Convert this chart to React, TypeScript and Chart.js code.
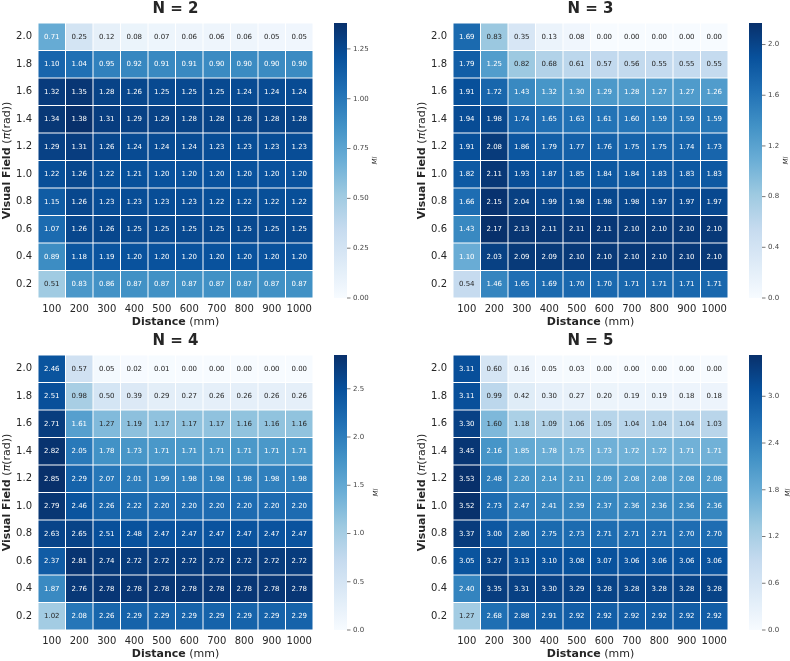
import React, { useEffect, useRef } from 'react';
import { Chart, registerables } from 'chart.js';

Chart.register(...registerables);

const FONT = '"DejaVu Sans", "Liberation Sans", sans-serif';
const TEXT = '#262626';

// Distance categories (x) and visual field labels (rows listed top to bottom)
const distances = ['100', '200', '300', '400', '500', '600', '700', '800', '900', '1000'];
const fieldLabels = ['2.0', '1.8', '1.6', '1.4', '1.2', '1.0', '0.8', '0.6', '0.4', '0.2'];

const miN2 = [
  [0.71, 0.25, 0.12, 0.08, 0.07, 0.06, 0.06, 0.06, 0.05, 0.05],
  [1.10, 1.04, 0.95, 0.92, 0.91, 0.91, 0.90, 0.90, 0.90, 0.90],
  [1.32, 1.35, 1.28, 1.26, 1.25, 1.25, 1.25, 1.24, 1.24, 1.24],
  [1.34, 1.38, 1.31, 1.29, 1.29, 1.28, 1.28, 1.28, 1.28, 1.28],
  [1.29, 1.31, 1.26, 1.24, 1.24, 1.24, 1.23, 1.23, 1.23, 1.23],
  [1.22, 1.26, 1.22, 1.21, 1.20, 1.20, 1.20, 1.20, 1.20, 1.20],
  [1.15, 1.26, 1.23, 1.23, 1.23, 1.23, 1.22, 1.22, 1.22, 1.22],
  [1.07, 1.26, 1.26, 1.25, 1.25, 1.25, 1.25, 1.25, 1.25, 1.25],
  [0.89, 1.18, 1.19, 1.20, 1.20, 1.20, 1.20, 1.20, 1.20, 1.20],
  [0.51, 0.83, 0.86, 0.87, 0.87, 0.87, 0.87, 0.87, 0.87, 0.87],
];

const miN3 = [
  [1.69, 0.83, 0.35, 0.13, 0.08, 0.00, 0.00, 0.00, 0.00, 0.00],
  [1.79, 1.25, 0.82, 0.68, 0.61, 0.57, 0.56, 0.55, 0.55, 0.55],
  [1.91, 1.72, 1.43, 1.32, 1.30, 1.29, 1.28, 1.27, 1.27, 1.26],
  [1.94, 1.98, 1.74, 1.65, 1.63, 1.61, 1.60, 1.59, 1.59, 1.59],
  [1.91, 2.08, 1.86, 1.79, 1.77, 1.76, 1.75, 1.75, 1.74, 1.73],
  [1.82, 2.11, 1.93, 1.87, 1.85, 1.84, 1.84, 1.83, 1.83, 1.83],
  [1.66, 2.15, 2.04, 1.99, 1.98, 1.98, 1.98, 1.97, 1.97, 1.97],
  [1.43, 2.17, 2.13, 2.11, 2.11, 2.11, 2.10, 2.10, 2.10, 2.10],
  [1.10, 2.03, 2.09, 2.09, 2.10, 2.10, 2.10, 2.10, 2.10, 2.10],
  [0.54, 1.46, 1.65, 1.69, 1.70, 1.70, 1.71, 1.71, 1.71, 1.71],
];

const miN4 = [
  [2.46, 0.57, 0.05, 0.02, 0.01, 0.00, 0.00, 0.00, 0.00, 0.00],
  [2.51, 0.98, 0.50, 0.39, 0.29, 0.27, 0.26, 0.26, 0.26, 0.26],
  [2.71, 1.61, 1.27, 1.19, 1.17, 1.17, 1.17, 1.16, 1.16, 1.16],
  [2.82, 2.05, 1.78, 1.73, 1.71, 1.71, 1.71, 1.71, 1.71, 1.71],
  [2.85, 2.29, 2.07, 2.01, 1.99, 1.98, 1.98, 1.98, 1.98, 1.98],
  [2.79, 2.46, 2.26, 2.22, 2.20, 2.20, 2.20, 2.20, 2.20, 2.20],
  [2.63, 2.65, 2.51, 2.48, 2.47, 2.47, 2.47, 2.47, 2.47, 2.47],
  [2.37, 2.81, 2.74, 2.72, 2.72, 2.72, 2.72, 2.72, 2.72, 2.72],
  [1.87, 2.76, 2.78, 2.78, 2.78, 2.78, 2.78, 2.78, 2.78, 2.78],
  [1.02, 2.08, 2.26, 2.29, 2.29, 2.29, 2.29, 2.29, 2.29, 2.29],
];

const miN5 = [
  [3.11, 0.60, 0.16, 0.05, 0.03, 0.00, 0.00, 0.00, 0.00, 0.00],
  [3.11, 0.99, 0.42, 0.30, 0.27, 0.20, 0.19, 0.19, 0.18, 0.18],
  [3.30, 1.60, 1.18, 1.09, 1.06, 1.05, 1.04, 1.04, 1.04, 1.03],
  [3.45, 2.16, 1.85, 1.78, 1.75, 1.73, 1.72, 1.72, 1.71, 1.71],
  [3.53, 2.48, 2.20, 2.14, 2.11, 2.09, 2.08, 2.08, 2.08, 2.08],
  [3.52, 2.73, 2.47, 2.41, 2.39, 2.37, 2.36, 2.36, 2.36, 2.36],
  [3.37, 3.00, 2.80, 2.75, 2.73, 2.71, 2.71, 2.71, 2.70, 2.70],
  [3.05, 3.27, 3.13, 3.10, 3.08, 3.07, 3.06, 3.06, 3.06, 3.06],
  [2.40, 3.35, 3.31, 3.30, 3.29, 3.28, 3.28, 3.28, 3.28, 3.28],
  [1.27, 2.68, 2.88, 2.91, 2.92, 2.92, 2.92, 2.92, 2.92, 2.92],
];

// Colorbar tick values per panel
const cbTicksN2 = [0, 0.25, 0.5, 0.75, 1.0, 1.25];
const cbTicksN3 = [0, 0.4, 0.8, 1.2, 1.6, 2.0];
const cbTicksN4 = [0, 0.5, 1.0, 1.5, 2.0, 2.5];
const cbTicksN5 = [0, 0.6, 1.2, 1.8, 2.4, 3.0];

// matplotlib "Blues" colormap control points
const BLUES: number[][] = [
  [247, 251, 255],
  [222, 235, 247],
  [198, 219, 239],
  [158, 202, 225],
  [107, 174, 214],
  [66, 146, 198],
  [33, 113, 181],
  [8, 81, 156],
  [8, 48, 107],
];

function bluesRGB(t: number): number[] {
  const tt = Math.max(0, Math.min(1, t)) * (BLUES.length - 1);
  const i = Math.min(Math.floor(tt), BLUES.length - 2);
  const f = tt - i;
  const a = BLUES[i];
  const b = BLUES[i + 1];
  return [0, 1, 2].map((k) => a[k] + (b[k] - a[k]) * f);
}

function rgbStr(c: number[]) {
  return `rgb(${Math.round(c[0])},${Math.round(c[1])},${Math.round(c[2])})`;
}

function luminance(c: number[]) {
  const lin = c.map((v) => {
    const s = v / 255;
    return s <= 0.03928 ? s / 12.92 : Math.pow((s + 0.055) / 1.055, 2.4);
  });
  return 0.2126 * lin[0] + 0.7152 * lin[1] + 0.0722 * lin[2];
}

type PanelProps = {
  title: string;
  values: number[][];
  cbTicks: number[];
  decimals: number;
  left: number;
  top: number;
  miOffset: number;
};

const W = 395;
const H = 330;
const AREA_L = 38;
const AREA_T = 23;
const AREA_SIZE = 275;

function Panel({ title, values, cbTicks, decimals, left, top, miOffset }: PanelProps) {
  const ref = useRef<HTMLCanvasElement | null>(null);

  useEffect(() => {
    if (!ref.current) return;
    const vmax = Math.max(...values.map((r) => Math.max(...r)));
    const nRows = fieldLabels.length;

    // datasets stacked from bottom row to top row
    const datasets = [] as any[];
    for (let k = nRows - 1; k >= 0; k--) {
      const row = values[k];
      datasets.push({
        label: fieldLabels[k],
        data: row.map(() => 1),
        mi: row,
        backgroundColor: row.map((v) => rgbStr(bluesRGB(v / vmax))),
        borderColor: '#ffffff',
        borderWidth: 0.5,
        borderSkipped: false,
        barPercentage: 1,
        categoryPercentage: 1,
        inflateAmount: 0,
      });
    }

    const extras = {
      id: 'heatExtras',
      afterDatasetsDraw(chart: any) {
        const ctx = chart.ctx;
        ctx.save();
        ctx.font = `7px ${FONT}`;
        ctx.textAlign = 'center';
        ctx.textBaseline = 'middle';
        chart.data.datasets.forEach((ds: any, di: number) => {
          const meta = chart.getDatasetMeta(di);
          meta.data.forEach((el: any, i: number) => {
            const v = ds.mi[i];
            const c = bluesRGB(v / vmax);
            ctx.fillStyle = luminance(c) > 0.408 ? TEXT : '#ffffff';
            ctx.fillText(v.toFixed(2), el.x, (el.y + el.base) / 2);
          });
        });
        ctx.restore();
      },
      afterDraw(chart: any) {
        const ctx = chart.ctx;
        const area = chart.chartArea;
        const cb = chart.scales.cb;
        const cx = (area.left + area.right) / 2;
        const cy = (area.top + area.bottom) / 2;
        ctx.save();

        // colorbar
        const x0 = area.right + 21;
        const yTop = cb.getPixelForValue(vmax);
        const yBot = cb.getPixelForValue(0);
        const grad = ctx.createLinearGradient(0, yBot, 0, yTop);
        BLUES.forEach((c, i) => grad.addColorStop(i / (BLUES.length - 1), rgbStr(c)));
        ctx.fillStyle = grad;
        ctx.fillRect(x0, yTop, 13, yBot - yTop);
        ctx.strokeStyle = '#555555';
        ctx.lineWidth = 0.8;
        cb.ticks.forEach((t: any) => {
          const y = cb.getPixelForValue(t.value);
          ctx.beginPath();
          ctx.moveTo(x0 + 13, y);
          ctx.lineTo(x0 + 16.5, y);
          ctx.stroke();
        });

        // MI label
        ctx.save();
        ctx.translate(area.right + miOffset, cy);
        ctx.rotate(-Math.PI / 2);
        ctx.font = `italic 7px ${FONT}`;
        ctx.fillStyle = TEXT;
        ctx.textAlign = 'center';
        ctx.textBaseline = 'middle';
        ctx.fillText('MI', 0, 0);
        ctx.restore();

        // panel title
        ctx.font = `bold 15px ${FONT}`;
        ctx.fillStyle = TEXT;
        ctx.textAlign = 'center';
        ctx.textBaseline = 'middle';
        ctx.fillText(title, cx, area.top - 14);

        // mixed-font text helper
        const drawParts = (parts: [string, string][], x: number, y: number) => {
          ctx.textAlign = 'left';
          ctx.textBaseline = 'middle';
          let total = 0;
          parts.forEach(([f, s]) => {
            ctx.font = f;
            total += ctx.measureText(s).width;
          });
          let px = x - total / 2;
          parts.forEach(([f, s]) => {
            ctx.font = f;
            ctx.fillText(s, px, y);
            px += ctx.measureText(s).width;
          });
        };

        // x axis title
        drawParts(
          [
            [`bold 11px ${FONT}`, 'Distance'],
            [`11px ${FONT}`, ' (mm)'],
          ],
          cx,
          area.bottom + 24
        );

        // y axis title
        ctx.save();
        ctx.translate(area.left - 30.5, cy);
        ctx.rotate(-Math.PI / 2);
        drawParts(
          [
            [`bold 11px ${FONT}`, 'Visual Field '],
            [`11px ${FONT}`, '('],
            [`italic 11px ${FONT}`, 'π'],
            [`11px ${FONT}`, '(rad))'],
          ],
          0,
          0
        );
        ctx.restore();

        ctx.restore();
      },
    };

    const chart = new Chart(ref.current, {
      type: 'bar',
      data: { labels: distances, datasets },
      plugins: [extras],
      options: {
        responsive: false,
        animation: false,
        events: [],
        layout: {
          padding: { left: 0, right: W - (AREA_L + AREA_SIZE) - 70, top: AREA_T, bottom: 0 },
        },
        plugins: {
          legend: { display: false },
          tooltip: { enabled: false },
          title: { display: false },
        },
        scales: {
          x: {
            type: 'category',
            stacked: true,
            grid: { display: false, drawTicks: false },
            border: { display: false },
            ticks: {
              font: { family: FONT, size: 10 },
              color: TEXT,
              padding: 5,
              maxRotation: 0,
              autoSkip: false,
            },
            afterFit: (s: any) => {
              s.height = H - AREA_T - AREA_SIZE;
              s.paddingLeft = 0;
              s.paddingRight = 0;
            },
          },
          y: {
            type: 'linear',
            stacked: true,
            position: 'left',
            min: 0,
            max: fieldLabels.length,
            grid: { display: false, drawTicks: false },
            border: { display: false },
            ticks: {
              font: { family: FONT, size: 10 },
              color: TEXT,
              padding: 6,
              callback: (v: any) => fieldLabels[fieldLabels.length - 1 - Math.floor(Number(v))],
            },
            afterBuildTicks: (s: any) => {
              s.ticks = fieldLabels.map((_, i) => ({ value: i + 0.5 }));
            },
            afterFit: (s: any) => {
              s.width = AREA_L;
              s.paddingTop = 0;
              s.paddingBottom = 0;
            },
          },
          cb: {
            type: 'linear',
            position: 'right',
            min: 0,
            max: vmax,
            grid: { display: false, drawTicks: false },
            border: { display: false },
            ticks: {
              font: { family: FONT, size: 7 },
              color: '#444444',
              padding: 40,
              callback: (v: any) => Number(v).toFixed(decimals),
            },
            afterBuildTicks: (s: any) => {
              s.ticks = cbTicks.map((v) => ({ value: v }));
            },
            afterFit: (s: any) => {
              s.width = 70;
              s.paddingTop = 0;
              s.paddingBottom = 0;
            },
          },
        } as any,
      },
    });

    return () => chart.destroy();
  }, [title, values, cbTicks, decimals, miOffset]);

  return (
    <canvas
      ref={ref}
      width={W}
      height={H}
      style={{ position: 'absolute', left, top, width: W, height: H }}
    />
  );
}

export default function App() {
  return (
    <div
      style={{
        position: 'absolute',
        left: 0,
        top: 0,
        width: 790,
        height: 661,
        overflow: 'hidden',
        background: '#ffffff',
      }}
    >
      <Panel title="N = 2" values={miN2} cbTicks={cbTicksN2} decimals={2} left={0} top={0} miOffset={62} />
      <Panel title="N = 3" values={miN3} cbTicks={cbTicksN3} decimals={1} left={415} top={0} miOffset={58} />
      <Panel title="N = 4" values={miN4} cbTicks={cbTicksN4} decimals={1} left={0} top={332} miOffset={63} />
      <Panel title="N = 5" values={miN5} cbTicks={cbTicksN5} decimals={1} left={415} top={332} miOffset={60} />
    </div>
  );
}
